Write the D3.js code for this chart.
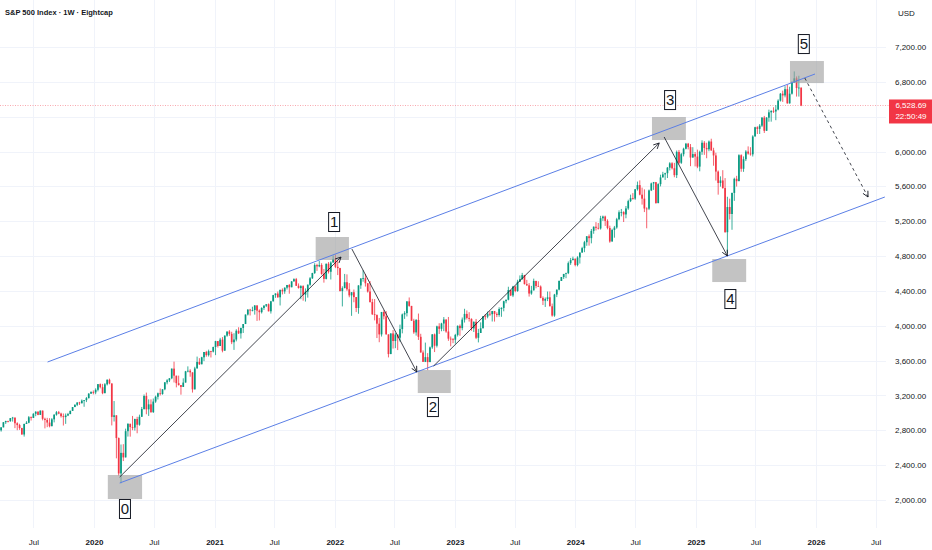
<!DOCTYPE html>
<meta charset="utf-8">
<script src="https://d3js.org/d3.v7.min.js"></script>
<style>
  body { margin: 0; background: #fff; }
  text { font-family: "Liberation Sans", Arial, sans-serif; }
</style>
<svg id="chart" width="932" height="550"></svg>
<script>

// weekly S&P 500 bars, one row per week: [high, low, close]
// open of each week = close of the week before
var firstWeek = "2019-03-11";
var firstOpen = 2743;
var bars2019 = [[2830,2732,2822],[2860,2785,2800],[2836,2785,2834],[2894,2848,2893],[2910,2873,2907],[2910,2891,2905],[2940,2898,2940],[2954,2900,2946],[2946,2825,2881],[2892,2801,2860],[2875,2805,2826],[2829,2750,2752],[2876,2728,2873],[2905,2873,2887],[2964,2881,2950],[2959,2912,2942],[2996,2942,2990],[3018,2962,3014],[3017,2973,2977],[3028,2977,3026],[3027,2914,2932],[2945,2822,2919],[2943,2836,2889],[2939,2834,2847],[2940,2847,2926],[2985,2891,2979],[3021,2968,3007],[3022,2985,2992],[3002,2946,2962],[2993,2855,2952],[2993,2874,2970],[3000,2963,2986],[3027,2986,3023],[3067,3023,3067],[3098,3066,3093],[3120,3078,3120],[3127,3091,3110],[3154,3110,3141],[3147,3070,3146],[3183,3124,3169],[3226,3166,3221],[3248,3217,3240]];
var bars2020 = [[3258,3212,3235],[3282,3214,3265],[3330,3247,3330],[3338,3281,3295],[3333,3214,3226],[3342,3226,3328],[3385,3315,3380],[3393,3328,3338],[3338,2856,2954],[3136,2901,2972],[2972,2478,2711],[2718,2280,2305],[2637,2192,2541],[2641,2447,2489],[2819,2489,2790],[2880,2728,2875],[2875,2727,2837],[2965,2801,2831],[2933,2797,2930],[2955,2766,2864],[2980,2853,2955],[3068,2955,3044],[3211,3038,3194],[3233,2984,3041],[3155,2965,3098],[3155,3000,3009],[3165,2999,3130],[3198,3115,3185],[3233,3154,3225],[3280,3200,3216],[3272,3209,3271],[3352,3260,3351],[3387,3328,3373],[3399,3354,3397],[3509,3387,3508],[3588,3349,3427],[3427,3293,3341],[3428,3314,3319],[3320,3209,3298],[3397,3298,3348],[3482,3348,3477],[3534,3466,3484],[3501,3415,3465],[3465,3233,3270],[3529,3270,3510],[3646,3510,3585],[3628,3550,3558],[3644,3558,3638],[3699,3594,3699],[3712,3645,3663],[3726,3647,3709],[3712,3636,3703],[3760,3694,3756]];
var bars2021 = [[3827,3663,3824],[3824,3750,3768],[3861,3768,3841],[3870,3695,3714],[3889,3714,3887],[3934,3874,3934],[3950,3884,3907],[3931,3789,3811],[3914,3723,3842],[3960,3821,3943],[3983,3905,3913],[3978,3853,3975],[4020,3917,4020],[4129,4020,4129],[4191,4118,4185],[4194,4118,4180],[4219,4165,4181],[4238,4128,4233],[4236,4056,4174],[4188,4061,4156],[4213,4141,4204],[4237,4182,4230],[4249,4215,4247],[4256,4165,4166],[4286,4140,4281],[4355,4278,4352],[4372,4321,4370],[4393,4321,4327],[4415,4233,4412],[4429,4360,4395],[4441,4367,4437],[4469,4416,4468],[4480,4368,4442],[4513,4442,4509],[4545,4509,4535],[4549,4457,4459],[4486,4427,4433],[4466,4305,4455],[4465,4288,4357],[4429,4278,4391],[4475,4323,4471],[4559,4460,4545],[4608,4537,4605],[4718,4595,4697],[4712,4630,4682],[4743,4672,4698],[4718,4585,4595],[4652,4495,4538],[4713,4532,4712],[4731,4600,4620],[4740,4531,4726],[4808,4726,4766]];
var bars2022 = [[4819,4662,4677],[4749,4582,4662],[4665,4395,4398],[4453,4222,4432],[4595,4431,4500],[4590,4401,4419],[4490,4327,4349],[4386,4114,4385],[4416,4270,4329],[4330,4157,4204],[4465,4138,4463],[4546,4424,4543],[4637,4506,4546],[4594,4450,4488],[4488,4381,4393],[4513,4267,4272],[4309,4124,4132],[4307,4062,4123],[4131,3859,4024],[4090,3811,3901],[4159,3876,4158],[4178,4073,4109],[4168,3900,3901],[3901,3637,3675],[3913,3675,3912],[3950,3738,3825],[3918,3743,3899],[3899,3721,3863],[4013,3818,3962],[4140,3913,4130],[4167,4079,4145],[4281,4107,4280],[4325,4218,4228],[4228,4057,4058],[4080,3907,3924],[4077,3887,4067],[4140,3837,3873],[3908,3693,3693],[3717,3584,3586],[3807,3583,3640],[3686,3491,3583],[3762,3583,3752],[3905,3735,3901],[3911,3698,3771],[4001,3751,3993],[4029,3906,3965],[4034,3937,4026],[4100,3939,4072],[4072,3919,3934],[4101,3827,3852],[3877,3764,3845],[3859,3800,3840]];
var bars2023 = [[3907,3795,3895],[4004,3877,3999],[4015,3885,3973],[4095,3948,4071],[4195,4037,4136],[4176,4072,4090],[4156,4048,4079],[4085,3943,3970],[4049,3928,4046],[4078,3847,3862],[3964,3809,3917],[4039,3917,3971],[4110,3971,4109],[4133,4069,4105],[4163,4086,4138],[4170,4113,4133],[4170,4049,4169],[4170,4048,4136],[4155,4099,4124],[4212,4103,4192],[4212,4103,4205],[4288,4166,4282],[4299,4258,4299],[4448,4292,4410],[4409,4341,4348],[4458,4329,4450],[4456,4385,4399],[4528,4390,4505],[4578,4502,4536],[4607,4528,4582],[4584,4474,4478],[4527,4458,4464],[4490,4335,4370],[4458,4356,4406],[4541,4406,4515],[4515,4430,4457],[4511,4448,4450],[4463,4316,4320],[4338,4238,4288],[4325,4216,4308],[4393,4283,4327],[4393,4223,4224],[4255,4104,4117],[4366,4103,4358],[4415,4329,4415],[4521,4406,4514],[4560,4514,4559],[4595,4537,4595],[4609,4546,4604],[4738,4593,4719],[4779,4699,4754],[4793,4751,4770]];
var bars2024 = [[4770,4682,4697],[4798,4682,4784],[4842,4714,4840],[4906,4840,4891],[4975,4845,4959],[5030,4918,5027],[5048,4920,5006],[5111,4946,5089],[5140,5056,5137],[5190,5094,5124],[5180,5105,5117],[5262,5104,5234],[5265,5204,5254],[5264,5146,5204],[5222,5107,5123],[5149,4953,4967],[5114,4967,5100],[5146,5011,5128],[5239,5114,5223],[5325,5211,5303],[5341,5256,5305],[5315,5191,5278],[5375,5234,5347],[5447,5331,5431],[5505,5420,5465],[5523,5447,5460],[5570,5445,5567],[5655,5552,5615],[5669,5497,5505],[5586,5391,5459],[5566,5305,5346],[5360,5119,5344],[5564,5328,5554],[5643,5546,5634],[5651,5560,5648],[5651,5402,5408],[5636,5407,5626],[5734,5600,5703],[5767,5703,5738],[5757,5674,5751],[5822,5696,5815],[5878,5783,5865],[5878,5794,5808],[5870,5705,5729],[6012,5696,5996],[6018,5853,5871],[5984,5858,5969],[6044,5944,6032],[6099,6024,6090],[6099,6024,6051],[6086,5832,5931],[6050,5930,5971]];
var bars2025 = [[5994,5829,5942],[6022,5809,5827],[6010,5773,5997],[6129,5962,6101],[6120,5962,6041],[6101,5923,6026],[6127,6003,6115],[6147,6008,6013],[6043,5837,5955],[5986,5667,5770],[5783,5505,5639],[5715,5597,5668],[5786,5573,5581],[5695,5069,5074],[5481,4835,5363],[5459,5220,5283],[5528,5102,5525],[5700,5434,5687],[5721,5598,5660],[5969,5786,5958],[5968,5768,5802],[5944,5767,5912],[6016,5891,6000],[6059,5964,5977],[6050,5953,5968],[6187,5943,6173],[6284,6177,6279],[6290,6201,6260],[6315,6202,6297],[6395,6281,6389],[6409,6213,6238],[6395,6237,6389],[6481,6342,6450],[6473,6343,6467],[6508,6443,6460],[6532,6360,6482],[6600,6473,6584],[6672,6574,6664],[6699,6570,6644],[6750,6622,6716],[6764,6550,6553],[6744,6550,6664],[6807,6654,6792],[6920,6790,6840],[6862,6631,6729],[6870,6631,6734],[6725,6521,6528.69]];

var lastPrice = 6528.69;
var countdown = "22:50:49";
var priceTicks = [2000, 2400, 2800, 3200, 3600, 4000, 4400, 4800, 5200, 5600, 6000, 6400, 6800, 7200];
var shownPriceTicks = [2000, 2400, 2800, 3200, 3600, 4000, 4400, 4800, 5200, 5600, 6000, 6800, 7200];
var timeTicks = ["2019-07-01", "2020-01-01", "2020-07-01", "2021-01-01", "2021-07-01", "2022-01-01", "2022-07-01",
                 "2023-01-01", "2023-07-01", "2024-01-01", "2024-07-01", "2025-01-01", "2025-07-01", "2026-01-01", "2026-07-01"];

// drawings, in [date, price]
var channelUpper = [["2019-08-13", 3584], ["2025-12-29", 6890]];
var channelLower = [["2020-03-19", 2195], ["2026-07-29", 5478]];
var waveArrows = [
  [["2020-03-19", 2264], ["2022-01-20", 4789]],
  [["2022-02-22", 4881], ["2022-09-07", 3469]],
  [["2022-10-28", 3538], ["2024-09-12", 6098]],
  [["2024-09-27", 6167], ["2025-04-07", 4801]]
];
var projection = [["2025-11-28", 6844], ["2026-06-08", 5478]];
// zones: [from, to, low, high]
var zones = [
  ["2020-02-12", "2020-05-26", 2011, 2287],
  ["2021-11-04", "2022-02-13", 4755, 5019],
  ["2022-09-10", "2022-12-19", 3228, 3492],
  ["2024-08-21", "2024-12-02", 6132, 6396],
  ["2025-02-20", "2025-06-03", 4502, 4766],
  ["2025-10-14", "2026-01-25", 6786, 7039]
];
var waveLabels = [
  ["0", "2020-04-04", 1897],
  ["1", "2021-12-30", 5191],
  ["2", "2022-10-26", 3067],
  ["3", "2024-10-15", 6591],
  ["4", "2025-04-16", 4307],
  ["5", "2025-11-25", 7234]
];

var up = "#089981", down = "#f23645";
var parse = d3.timeParse("%Y-%m-%d");

var svg = d3.select("#chart"),
    plotRight = 886;

var x = d3.scaleTime()
    .domain([new Date(2020, 0, 1), new Date(2026, 0, 1)])
    .range([94, 816]);
var y = d3.scaleLinear()
    .domain([2000, 7200])
    .range([500, 47]);

// build bar list
var rows = [].concat(bars2019, bars2020, bars2021, bars2022, bars2023, bars2024, bars2025);
var start = parse(firstWeek);
var prev = firstOpen;
var bars = rows.map(function(r, i) {
  var o = prev, c = r[2];
  prev = c;
  return { date: d3.timeWeek.offset(start, i), open: o, close: c,
           high: Math.max(r[0], o, c), low: Math.min(r[1], o, c) };
});

svg.append("clipPath").attr("id", "plot")
  .append("rect").attr("x", 0).attr("y", 0).attr("width", plotRight).attr("height", 530);

// grid
var grid = svg.append("g");
grid.selectAll("line.h").data(priceTicks).join("line")
    .attr("x1", 0).attr("x2", plotRight)
    .attr("y1", d => Math.round(y(d)) + 0.5).attr("y2", d => Math.round(y(d)) + 0.5)
    .attr("stroke", "#f0f3fa");
grid.selectAll("line.v").data(timeTicks).join("line")
    .attr("x1", d => Math.round(x(parse(d))) + 0.5).attr("x2", d => Math.round(x(parse(d))) + 0.5)
    .attr("y1", 0).attr("y2", 528)
    .attr("stroke", "#f0f3fa");

// last price line
svg.append("line")
    .attr("x1", 0).attr("x2", 889)
    .attr("y1", y(lastPrice)).attr("y2", y(lastPrice))
    .attr("stroke", down).attr("stroke-width", 0.8)
    .attr("stroke-dasharray", "1,1.5").attr("opacity", 0.55);

// candles
var plot = svg.append("g").attr("clip-path", "url(#plot)");
var bw = 1.7;
plot.selectAll("line.wick").data(bars).join("line")
    .attr("x1", d => x(d.date)).attr("x2", d => x(d.date))
    .attr("y1", d => y(d.high)).attr("y2", d => y(d.low))
    .attr("stroke", d => d.close >= d.open ? up : down)
    .attr("stroke-width", 0.8);
plot.selectAll("rect.body").data(bars).join("rect")
    .attr("x", d => x(d.date) - bw / 2)
    .attr("width", bw)
    .attr("y", d => y(Math.max(d.open, d.close)))
    .attr("height", d => Math.max(0.8, Math.abs(y(d.open) - y(d.close))))
    .attr("fill", d => d.close >= d.open ? up : down);

// zones
plot.selectAll("rect.zone").data(zones).join("rect")
    .attr("x", d => x(parse(d[0])))
    .attr("width", d => x(parse(d[1])) - x(parse(d[0])))
    .attr("y", d => y(d[3]))
    .attr("height", d => y(d[2]) - y(d[3]))
    .attr("fill", "#9e9e9e").attr("opacity", 0.62);

// channel
var line = d3.line().x(d => x(parse(d[0]))).y(d => y(d[1]));
[channelUpper, channelLower].forEach(function(ch) {
  plot.append("path").attr("d", line(ch))
      .attr("fill", "none").attr("stroke", "#5b7fe6").attr("stroke-width", 1);
});

// arrow heads
svg.append("defs").append("marker")
    .attr("id", "head").attr("viewBox", "0 0 10 10")
    .attr("refX", 9).attr("refY", 5)
    .attr("markerWidth", 7).attr("markerHeight", 7)
    .attr("markerUnits", "userSpaceOnUse")
    .attr("orient", "auto")
  .append("path").attr("d", "M1,1 L9,5 L1,9")
    .attr("fill", "none").attr("stroke", "#131722").attr("stroke-width", 1.2);

waveArrows.forEach(function(a) {
  plot.append("path").attr("d", line(a))
      .attr("fill", "none").attr("stroke", "#131722").attr("stroke-width", 0.8)
      .attr("marker-end", "url(#head)");
});
plot.append("path").attr("d", line(projection))
    .attr("fill", "none").attr("stroke", "#131722").attr("stroke-width", 0.8)
    .attr("stroke-dasharray", "3,3")
    .attr("marker-end", "url(#head)");

// wave labels
var lab = svg.selectAll("g.wave").data(waveLabels).join("g")
    .attr("transform", d => "translate(" + x(parse(d[1])) + "," + y(d[2]) + ")");
lab.append("rect")
    .attr("x", -5.5).attr("y", -9.5).attr("width", 11).attr("height", 19)
    .attr("fill", "#fff").attr("stroke", "#131722").attr("stroke-width", 1);
lab.append("text")
    .attr("text-anchor", "middle").attr("dy", "0.36em")
    .style("font-family", "'Liberation Sans Narrow', 'Liberation Sans', Arial")
    .style("font-size", "15px").attr("fill", "#131722")
    .text(d => d[0]);

// price axis
var yAxis = svg.append("g")
    .attr("transform", "translate(895,0)")
    .call(d3.axisRight(y).tickValues(shownPriceTicks).tickSize(0).tickFormat(d3.format(",.2f")));
yAxis.select(".domain").remove();
yAxis.selectAll("text").attr("x", 0).style("font-size", "8px").attr("fill", "#131722")
    .style("font-family", "'Liberation Sans', Arial");

svg.append("text").attr("x", 898).attr("y", 16).text("USD")
    .style("font-size", "8px").attr("fill", "#131722");

// last price tag
var tag = svg.append("g").attr("transform", "translate(889," + (y(lastPrice) - 6) + ")");
tag.append("rect").attr("width", 43).attr("height", 24).attr("fill", down);
tag.append("text").attr("x", 22).attr("y", 9).attr("text-anchor", "middle")
    .style("font-size", "8px").attr("fill", "#fff").text(d3.format(",.2f")(lastPrice));
tag.append("text").attr("x", 22).attr("y", 20).attr("text-anchor", "middle")
    .style("font-size", "8px").attr("fill", "#fff").text(countdown);

// time axis
var xAxis = svg.append("g")
    .attr("transform", "translate(0,536)")
    .call(d3.axisBottom(x).tickValues(timeTicks.map(parse)).tickSize(0)
      .tickFormat(d => d.getMonth() === 0 ? d.getFullYear() : "Jul"));
xAxis.select(".domain").remove();
xAxis.selectAll("text")
    .style("font-size", "8px").attr("fill", "#131722")
    .style("font-family", "'Liberation Sans', Arial")
    .style("font-weight", d => d.getMonth() === 0 ? "bold" : "normal");

// title
svg.append("text").attr("x", 5).attr("y", 15)
    .style("font-size", "7.5px").style("font-weight", "bold").attr("fill", "#131722")
    .text("S&P 500 Index · 1W · Eightcap");

</script>
